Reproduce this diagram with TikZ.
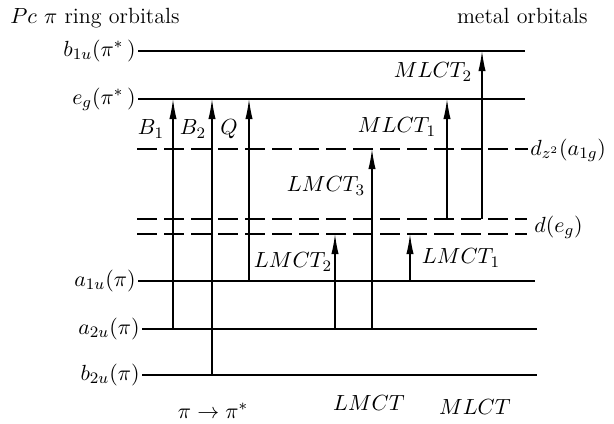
\documentclass[tikz,border=0pt]{standalone}
\usetikzlibrary{arrows.meta}
\begin{document}
\begin{tikzpicture}[x=0.5pt, y=-0.5pt, font=\fontsize{11}{13}\selectfont,
  level/.style={line width=0.8pt},
  metal/.style={line width=0.8pt, dash pattern=on 10pt off 3.5pt},
  trans/.style={line width=0.6pt, -{Latex[length=10pt, width=3.6pt]}},
  lab/.style={inner sep=1pt}]
  \useasboundingbox (0,0) rectangle (614,423);

  % headings
  \node[lab, anchor=west] (ring) at (8,18) {$Pc\ \pi$ ring orbitals};
  \node[lab, anchor=east] (metal) at (590,16) {metal orbitals};

  % ring levels
  \node[lab, anchor=east] (b1u) at (138,51) {$b_{1u}(\pi^{*}\,)$};
  \node[lab, anchor=east] (eg)  at (138,99) {$e_{g}(\pi^{*}\,)$};
  \node[lab, anchor=east] (a1u) at (138,281) {$a_{1u}(\pi)$};
  \node[lab, anchor=east] (a2u) at (142,329) {$a_{2u}(\pi)$};
  \node[lab, anchor=east] (b2u) at (142,375) {$b_{2u}(\pi)$};
  \coordinate (b1uR) at (525,51);
  \coordinate (egR)  at (525,99);
  \coordinate (a1uR) at (535,281);
  \coordinate (a2uR) at (537,329);
  \coordinate (b2uR) at (537,375);
  \draw[level] (b1u.east) -- (b1uR);
  \draw[level] (eg.east) -- (egR);
  \draw[level] (a1u.east) -- (a1uR);
  \draw[level] (a2u.east) -- (a2uR);
  \draw[level] (b2u.east) -- (b2uR);

  % metal levels
  \coordinate (dzL) at (137,149);
  \coordinate (deuL) at (137,219);
  \coordinate (delL) at (137,234);
  \node[lab, anchor=west] (dz) at (528,150) {$d_{z^2}(a_{1g})$};
  \node[lab, anchor=west] (de) at (532,227) {$d(e_{g})$};
  \draw[metal] (dzL) -- (dz.west |- dzL);
  \draw[metal] (deuL) -- (527,219) coordinate (deuR);
  \draw[metal] (delL) -- (527,234) coordinate (delR);

  % transitions
  \draw[trans] (173,0 |- a2u.east) -- (173,0 |- eg.east);
  \draw[trans] (212,0 |- b2u.east) -- (212,0 |- eg.east);
  \draw[trans] (249,0 |- a1u.east) -- (249,0 |- eg.east);
  \draw[trans] (335,0 |- a2u.east) -- (335,0 |- delL);
  \draw[trans] (372,0 |- a2u.east) -- (372,0 |- dzL);
  \draw[trans] (410,0 |- a1u.east) -- (410,0 |- delL);
  \draw[trans] (447,0 |- deuL) -- (447,0 |- eg.east);
  \draw[trans] (482,0 |- deuL) -- (482,0 |- b1u.east);

  % transition labels
  \node (B1) at (151,129) {$B_1$};
  \node (B2) at (193,129) {$B_2$};
  \node (Q)  at (229,129) {$Q$};
  \node (mlct2) at (433,72)  {$MLCT_2$};
  \node (mlct1) at (397,127) {$MLCT_1$};
  \node (lmct3) at (326,186) {$LMCT_3$};
  \node (lmct2) at (293,262) {$LMCT_2$};
  \node (lmct1) at (461,258) {$LMCT_1$};

  % groups
  \node (pipi) at (213,411) {$\pi\rightarrow\pi^{*}$};
  \node (lmct) at (369,403) {$LMCT$};
  \node (mlct) at (475,407) {$MLCT$};
\end{tikzpicture}
\end{document}
